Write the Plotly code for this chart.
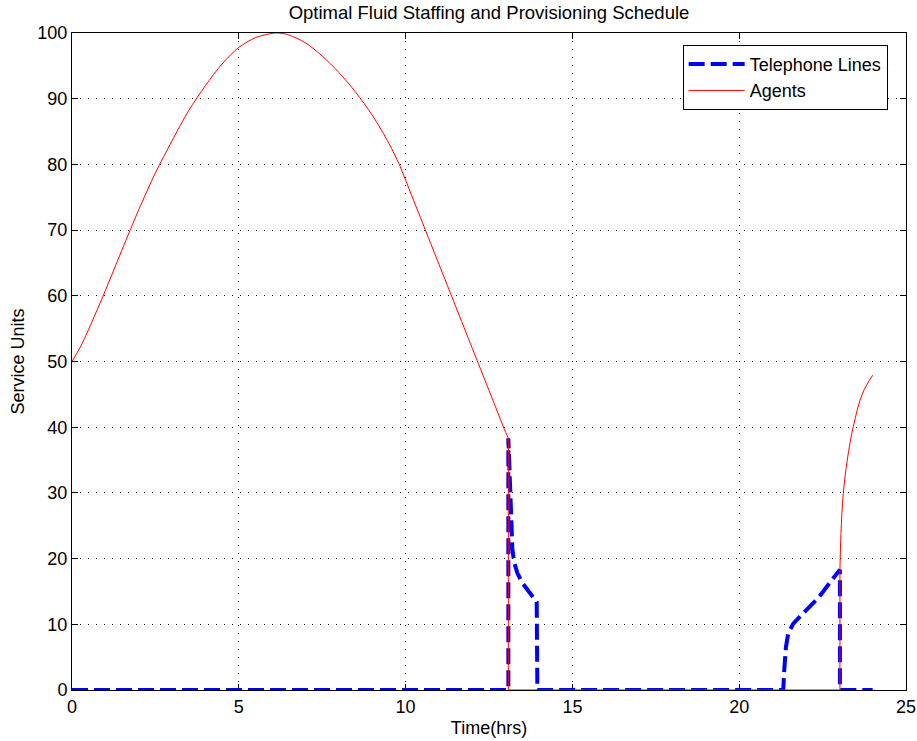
import plotly.graph_objects as go

# Agents (red) curve readings: daytime hump
agents_day_t = [0, 0.25, 0.5, 1.0, 1.5, 2.0, 2.5, 3.0, 3.5, 4.0, 4.5, 5.0, 5.5, 6.0, 6.2, 6.5, 7.0,
                7.5, 8.0, 8.5, 9.0, 9.5, 9.81, 10.0, 10.5, 11.0, 11.5, 12.0, 12.5, 13.0, 13.08]
agents_day_v = [50, 52.2, 54.9, 60.8, 67, 73.1, 78.7, 83.6, 88.2, 92.0, 95.3, 97.8, 99.3, 99.95, 100, 99.7, 98.5,
                96.5, 94.0, 91.0, 87.5, 83.2, 80.0, 77.6, 71.2, 64.8, 58.4, 52.0, 45.6, 39.2, 38.3]
# Agents: drop to zero and jump back
agents_mid_t = [13.08, 13.08, 23.02, 23.02]
agents_mid_v = [38.3, 0, 0, 18.3]
# Agents: evening recovery
agents_eve_t = [23.02, 23.05, 23.12, 23.24, 23.42, 23.7, 24.0]
agents_eve_v = [18.3, 23.8, 29.9, 35.0, 40.1, 45.2, 47.9]

# Telephone lines (blue) readings
lines_t = [0, 13.08, 13.08, 13.12, 13.16, 13.2, 13.25, 13.35, 13.5, 13.7, 13.93, 13.95,
           21.32, 21.35, 21.4, 21.47, 21.62, 21.92, 22.37, 22.77, 23.02, 23.02, 24.0]
lines_v = [0, 0, 38.3, 32, 26, 21.5, 19.5, 17.8, 16.3, 14.9, 13.4, 0,
           0, 3, 6.5, 8.6, 10.1, 11.7, 14.0, 16.7, 18.3, 0, 0]

x_ticks = [0, 5, 10, 15, 20, 25]
y_ticks = [0, 10, 20, 30, 40, 50, 60, 70, 80, 90, 100]

FONT = "Liberation Sans, Arial, sans-serif"
FS = 18

fig = go.Figure()
fig.add_trace(go.Scatter(x=lines_t, y=lines_v, mode="lines", name="Telephone Lines",
                         line=dict(color="#0000ff", width=4, dash="16px,6px")))
fig.add_trace(go.Scatter(x=agents_day_t, y=agents_day_v, mode="lines", name="Agents",
                         line=dict(color="#ff0000", width=1, shape="spline", smoothing=0.8)))
fig.add_trace(go.Scatter(x=agents_mid_t, y=agents_mid_v, mode="lines", name="Agents",
                         showlegend=False,
                         line=dict(color="#ff0000", width=1)))
fig.add_trace(go.Scatter(x=agents_eve_t, y=agents_eve_v, mode="lines", name="Agents",
                         showlegend=False,
                         line=dict(color="#ff0000", width=1, shape="spline", smoothing=1)))

axis_common = dict(showline=True, linecolor="black", linewidth=1, mirror="ticks",
                   ticks="inside", ticklen=6, tickcolor="black", tickwidth=1,
                   showgrid=True, gridcolor="black", gridwidth=1, griddash="1px,7px",
                   zeroline=False, tickfont=dict(size=FS, color="black", family=FONT),
                   layer="below traces", automargin=False)

fig.update_xaxes(range=[0, 25], tickvals=x_ticks, ticktext=[str(v) for v in x_ticks],
                 title=dict(text="Time(hrs)", font=dict(size=FS, color="black", family=FONT),
                            standoff=5), **axis_common)
fig.update_yaxes(range=[0, 100], tickvals=y_ticks, ticktext=[str(v) for v in y_ticks],
                 title=dict(text="Service Units", font=dict(size=FS, color="black", family=FONT),
                            standoff=8), **axis_common)

fig.update_layout(
    width=917, height=741,
    margin=dict(l=72, r=11, t=33, b=51),
    paper_bgcolor="white", plot_bgcolor="white",
    title=dict(text="Optimal Fluid Staffing and Provisioning Schedule",
               x=0.5, xanchor="center", xref="paper", y=1 - 13 / 741, yanchor="middle",
               font=dict(size=18.5, color="black", family=FONT)),
    font=dict(family=FONT, size=FS, color="black"),
    legend=dict(x=0.978, y=0.982, xanchor="right", yanchor="top",
                bgcolor="white", bordercolor="black", borderwidth=1,
                font=dict(size=FS, color="black", family=FONT),
                traceorder="normal", tracegroupgap=0, itemwidth=56),
    showlegend=True,
)

fig.write_html("out.html", config={"displayModeBar": False},
               post_script="document.body.style.margin='0px';")
